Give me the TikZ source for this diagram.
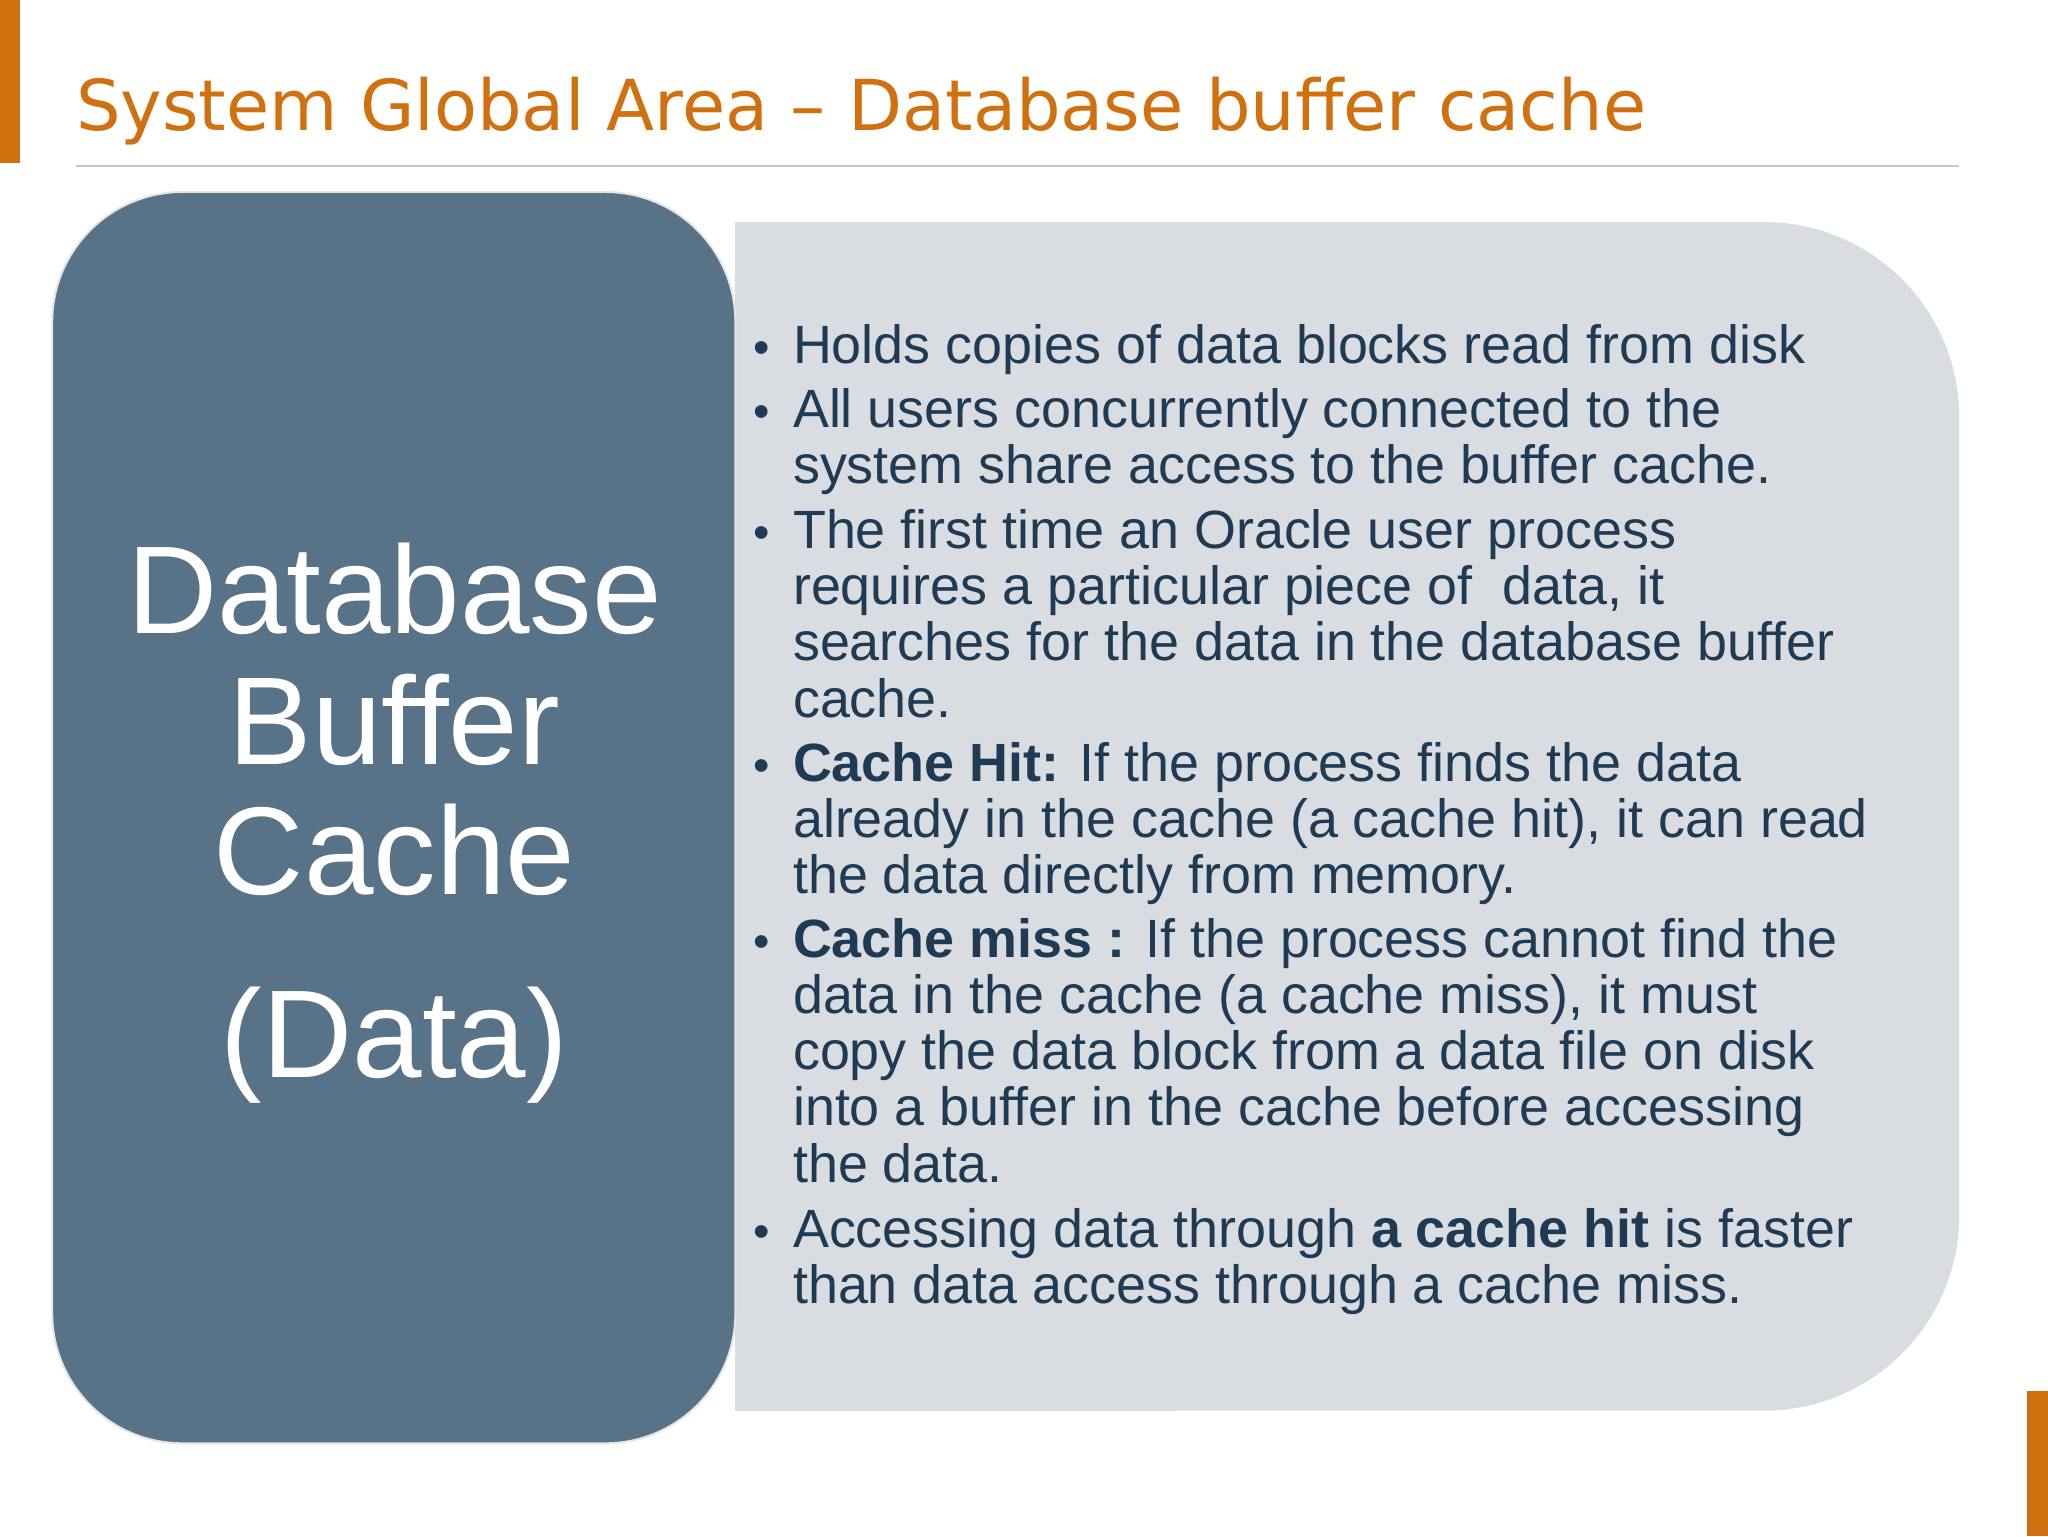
\documentclass[tikz,border=0pt]{standalone}
\usepackage{fontspec}
\setmainfont{Liberation Sans}
\newfontfamily\titlefont{DejaVu Sans}
\definecolor{orng}{HTML}{D0700F}
\definecolor{slate}{HTML}{587387}
\definecolor{pale}{HTML}{D9DCE0}
\definecolor{navy}{HTML}{1E3A55}
\begin{document}
\begin{tikzpicture}[x=1bp,y=-1bp,
  ln/.style={anchor=base west,inner sep=0,text=navy,font=\fontsize{41.4}{44}\selectfont},
  bl/.style={anchor=base west,inner sep=0,text=navy,font=\fontsize{36}{40}\selectfont},
  big/.style={anchor=base,inner sep=0,text=white,font=\fontsize{96}{100}\selectfont}]
\useasboundingbox (0,0) rectangle (1568,1176);
\fill[white] (0,0) rectangle (1568,1176);
\fill[orng] (0,0) rectangle (15,125);
\fill[orng] (1552,1065) rectangle (1568,1176);
\node[anchor=base west,inner sep=0,text=orng,font=\titlefont\fontsize{54}{60}\selectfont] (title) at (58,100) {System Global Area – Database buffer cache};
\draw[gray!45,line width=1bp] (58,127) -- (1500,127);
\fill[pale,rounded corners=150] (563,170) rectangle (1500,1080);
\fill[pale] (563,170) rectangle (900,1080);
\draw[slate,fill=slate,draw=gray!20,line width=1.5bp,rounded corners=100] (40,147) rectangle (563,1105);
\node[big] (d1) at (302,485) {Database};
\node[big] (d2) at (302,585) {Buffer};
\node[big] (d3) at (302,685) {Cache};
\node[big] (d4) at (302,825) {(Data)};
\foreach \y in {278,327,420,598,733,955} \node[bl] at (577,\y) {•};
\node[ln] (l1) at (607,278) {Holds copies of data blocks read from disk};
\node[ln] (l2) at (607,327) {All users concurrently connected to the};
\node[ln] (l3) at (607,370) {system share access to the buffer cache.};
\node[ln] (l4) at (607,420) {The first time an Oracle user process};
\node[ln] (l5) at (607,463) {requires a particular piece of\ \ data, it};
\node[ln] (l6) at (607,506) {searches for the data in the database buffer};
\node[ln] (l7) at (607,549) {cache.};
\node[ln] (l8) at (607,598) {\textbf{Cache Hit:} If the process finds the data};
\node[ln] (l9) at (607,641) {already in the cache (a cache hit), it can read};
\node[ln] (l10) at (607,684) {the data directly from memory.};
\node[ln] (l11) at (607,733) {\textbf{Cache miss :} If the process cannot find the};
\node[ln] (l12) at (607,776) {data in the cache (a cache miss), it must};
\node[ln] (l13) at (607,819) {copy the data block from a data file on disk};
\node[ln] (l14) at (607,862) {into a buffer in the cache before accessing};
\node[ln] (l15) at (607,905) {the data.};
\node[ln] (l16) at (607,955) {Accessing data through \textbf{a cache hit} is faster};
\node[ln] (l17) at (607,998) {than data access through a cache miss.};
\end{tikzpicture}
\end{document}
